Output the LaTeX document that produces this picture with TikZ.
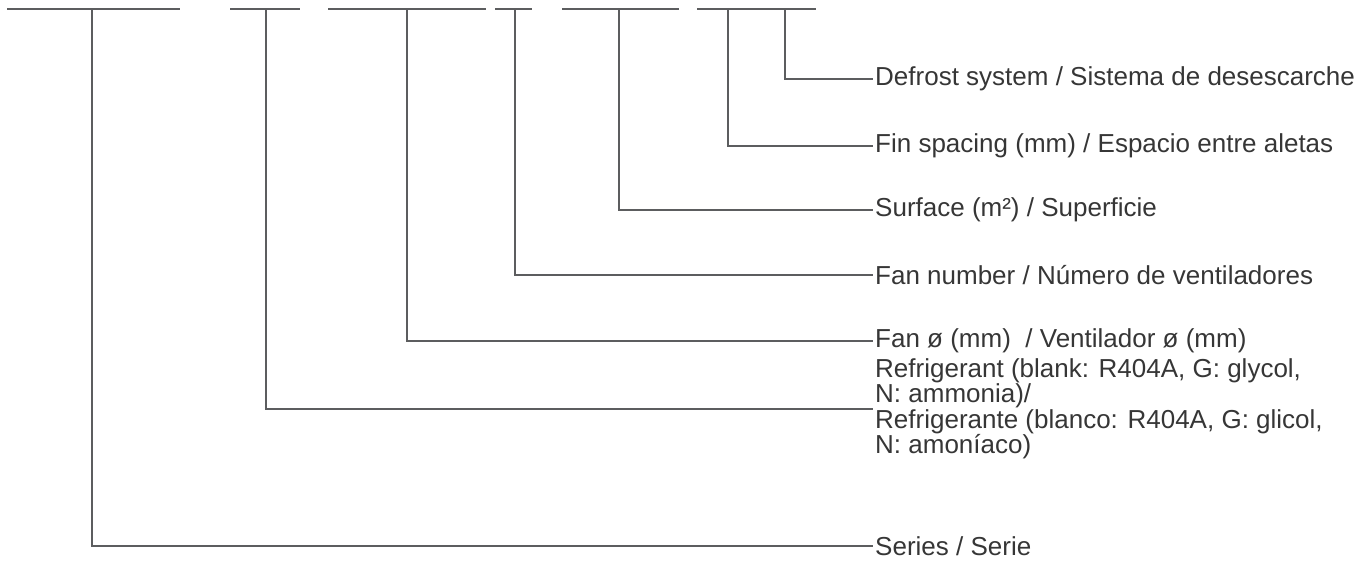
\documentclass[tikz,border=0pt]{standalone}
\usepackage{fontspec}
\setmainfont{Liberation Sans}
\definecolor{leadgray}{HTML}{5C5D5F}
\definecolor{textgray}{HTML}{363636}
\tikzset{
  lead/.style={draw=leadgray,line width=2pt},
  desc/.style={anchor=west,inner sep=2pt,text=textgray,align=left,
    font=\fontsize{26}{24}\selectfont}
}
\begin{document}
\begin{tikzpicture}[x=1pt,y=-1pt]
\useasboundingbox (0,0) rectangle (1369,565);
% code fields
\draw[lead] (7,9) -- (180,9);
\draw[lead] (230,9) -- (300,9);
\draw[lead] (328,9) -- (486,9);
\draw[lead] (495,9) -- (532,9);
\draw[lead] (562,9) -- (679,9);
\draw[lead] (697,9) -- (816,9);
\coordinate (series) at (92,9);
\coordinate (refrig) at (266,9);
\coordinate (fandia) at (407,9);
\coordinate (fannum) at (515,9);
\coordinate (surf) at (619,9);
\coordinate (fin) at (728,9);
\coordinate (defr) at (785,9);
% descriptions
\node[desc] (defrost) at (873,79) {Defrost system / Sistema de desescarche};
\node[desc] (finsp) at (873,146) {Fin spacing (mm) / Espacio entre aletas};
\node[desc] (surface) at (873,210) {Surface (m²) / Superficie};
\node[desc] (fannumber) at (873,275) {Fan number / Número de ventiladores};
\node[desc] (fandiam) at (873,341) {Fan ø (mm) \ / Ventilador ø (mm)};
\node[desc] (refrigerant) at (873,409) {Refrigerant (blank: R404A, G: glycol,\\N: ammonia)/\\Refrigerante (blanco: R404A, G: glicol,\\N: amoníaco)};
\node[desc] (ser) at (873,546) {Series / Serie};
% leaders
\draw[lead] (defr) |- (defrost.west);
\draw[lead] (fin) |- (finsp.west);
\draw[lead] (surf) |- (surface.west);
\draw[lead] (fannum) |- (fannumber.west);
\draw[lead] (fandia) |- (fandiam.west);
\draw[lead] (refrig) |- (refrigerant.west);
\draw[lead] (series) |- (ser.west);
\end{tikzpicture}
\end{document}
